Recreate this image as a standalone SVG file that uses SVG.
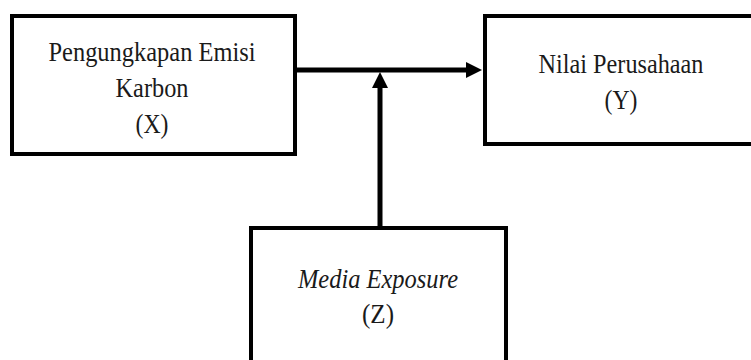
<svg xmlns="http://www.w3.org/2000/svg" width="751" height="360" viewBox="0 0 751 360">
  <style>
    .box { fill: #ffffff; stroke: #000000; stroke-width: 4; }
    .lbl { font-family: "Liberation Serif", "Times New Roman", serif; font-size: 26.5px; fill: #1a1a1a; text-anchor: middle; }
    .it { font-style: italic; }
    .wire { stroke: #000000; stroke-width: 5; fill: none; }
  </style>
  <defs>
    <marker id="head" viewBox="0 0 16 16" refX="4" refY="8" markerWidth="16" markerHeight="16" markerUnits="userSpaceOnUse" orient="auto">
      <path d="M0,0 L16,8 L0,16 z" fill="#000000"/>
    </marker>
  </defs>
  <rect width="751" height="360" fill="#ffffff"/>

  <g id="connectors">
    <line class="wire" x1="295" y1="70" x2="470" y2="70" marker-end="url(#head)"/>
    <line class="wire" x1="380" y1="229" x2="380" y2="84" marker-end="url(#head)"/>
  </g>

  <g id="node-x">
    <rect class="box" x="12" y="16" width="283" height="138"/>
    <text class="lbl" x="152" y="61" textLength="207" lengthAdjust="spacingAndGlyphs">Pengungkapan Emisi</text>
    <text class="lbl" x="152" y="97" textLength="73" lengthAdjust="spacingAndGlyphs">Karbon</text>
    <text class="lbl" x="152" y="133" textLength="33" lengthAdjust="spacingAndGlyphs">(X)</text>
  </g>

  <g id="node-y">
    <rect class="box" x="485" y="16" width="300" height="128"/>
    <text class="lbl" x="621" y="73" textLength="165" lengthAdjust="spacingAndGlyphs">Nilai Perusahaan</text>
    <text class="lbl" x="621" y="109" textLength="33" lengthAdjust="spacingAndGlyphs">(Y)</text>
  </g>

  <g id="node-z">
    <rect class="box" x="251" y="228" width="255" height="140"/>
    <text class="lbl it" x="378" y="288" textLength="160" lengthAdjust="spacingAndGlyphs">Media Exposure</text>
    <text class="lbl" x="378" y="323" textLength="32" lengthAdjust="spacingAndGlyphs">(Z)</text>
  </g>
</svg>
